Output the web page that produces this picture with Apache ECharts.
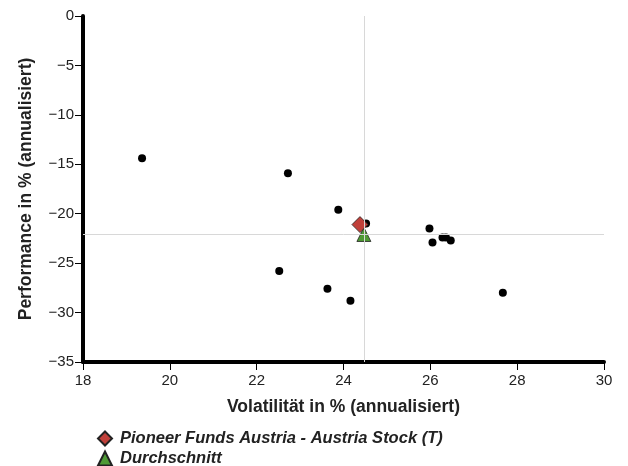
<!DOCTYPE html>
<html><head><meta charset="utf-8">
<script src="https://cdn.jsdelivr.net/npm/echarts@6/dist/echarts.min.js"></script>
<style>html,body{margin:0;padding:0;background:#fff}#c{width:628px;height:466px}</style>
</head><body><div id="c"></div>
<script>
var peerVolatility = [19.36, 22.72, 23.88, 22.52, 23.63, 24.16, 24.52, 25.98, 26.05, 26.28, 26.36, 26.47, 27.67];
var peerPerformance = [-14.4, -15.9, -19.6, -25.8, -27.6, -28.8, -21.0, -21.5, -22.9, -22.4, -22.4, -22.7, -28.0];
var fundName = 'Pioneer Funds Austria - Austria Stock (T)';
var fundPoint = [24.38, -21.1];
var avgName = 'Durchschnitt';
var avgPoint = [24.47, -22.1];
var xTicks = [18, 20, 22, 24, 26, 28, 30];
var yTicks = [0, -5, -10, -15, -20, -25, -30, -35];

var peers = peerVolatility.map(function (v, i) { return [v, peerPerformance[i]]; });
var font = 'Liberation Sans, Arial, sans-serif';
var legendText = { fontFamily: font, fontSize: 16.5, fontStyle: 'italic', fontWeight: 'bold', color: '#222', padding: [0, 0, 0, 3] };
var chart = echarts.init(document.getElementById('c'));
chart.setOption({
  animation: false,
  grid: { left: 83, right: 24, top: 16, bottom: 104 },
  xAxis: {
    type: 'value', min: xTicks[0], max: xTicks[xTicks.length - 1], interval: 2,
    name: 'Volatilität in % (annualisiert)', nameLocation: 'middle', nameGap: 36,
    nameTextStyle: { fontFamily: font, fontSize: 17.5, fontWeight: 'bold', color: '#222' },
    axisLine: { onZero: false, lineStyle: { color: '#000', width: 4 } },
    axisTick: { length: 8, lineStyle: { color: '#000', width: 1 } },
    axisLabel: { fontFamily: font, fontSize: 15, color: '#222', margin: 11 },
    splitLine: { show: false }
  },
  yAxis: {
    type: 'value', min: yTicks[yTicks.length - 1], max: yTicks[0], interval: 5,
    name: 'Performance in % (annualisiert)', nameLocation: 'middle', nameGap: 48,
    nameTextStyle: { fontFamily: font, fontSize: 17.5, fontWeight: 'bold', color: '#222' },
    axisLine: { onZero: false, lineStyle: { color: '#000', width: 4 } },
    axisTick: { length: 8, lineStyle: { color: '#000', width: 1 } },
    axisLabel: { fontFamily: font, fontSize: 15, color: '#222', margin: 9,
      formatter: function (v) { return String(v).replace('-', '\u2212'); } },
    splitLine: { show: false }
  },
  legend: [
    { left: 92, top: 425, itemWidth: 14, itemHeight: 14, data: [fundName], textStyle: legendText },
    { left: 92, top: 445, itemWidth: 14, itemHeight: 14, data: [avgName], textStyle: legendText }
  ],
  series: [
    {
      type: 'scatter', name: 'peers', data: peers, symbol: 'circle', symbolSize: 8,
      itemStyle: { color: '#000', opacity: 1 }, z: 2,
      markLine: {
        silent: true, symbol: 'none', label: { show: false },
        lineStyle: { color: '#d8d8d8', width: 1, type: 'solid' },
        data: [{ xAxis: avgPoint[0] }, { yAxis: avgPoint[1] }]
      }
    },
    {
      type: 'scatter', name: fundName, data: [fundPoint], symbol: 'diamond', symbolSize: 16,
      itemStyle: { color: '#c0403a', borderColor: '#222', borderWidth: 0.8, opacity: 1 }, z: 4
    },
    {
      type: 'scatter', name: avgName, data: [avgPoint], symbol: 'triangle', symbolSize: 14,
      itemStyle: { color: '#4f9a35', borderColor: '#222', borderWidth: 0.8, opacity: 1 }, z: 3
    }
  ]
});
</script></body></html>
